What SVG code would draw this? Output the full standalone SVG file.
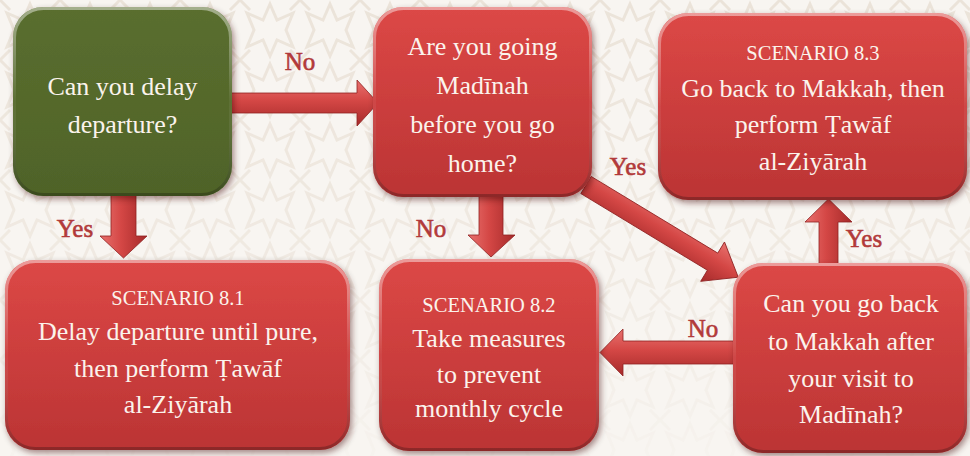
<svg xmlns="http://www.w3.org/2000/svg" width="970" height="456" viewBox="0 0 970 456">
<defs>
<style>
.t{font-family:"Liberation Serif","DejaVu Serif",serif;font-size:26px;fill:#fbf3ec;text-anchor:middle}
.s{font-size:20.5px}
.lbl{font-family:"Liberation Serif","DejaVu Serif",serif;font-size:25px;fill:#b23a3a;text-anchor:middle;stroke:#b23a3a;stroke-width:0.6}
.arr{stroke:#8f2222;stroke-width:0.8;stroke-linejoin:miter}
.bevel{fill:none;stroke:url(#bev);stroke-width:3}
</style>
<linearGradient id="gRed" x1="0" y1="0" x2="0" y2="1">
<stop offset="0" stop-color="#dc4846"/>
<stop offset="1" stop-color="#bb3434"/>
</linearGradient>
<linearGradient id="gGreen" x1="0" y1="0" x2="0" y2="1">
<stop offset="0" stop-color="#5a6e2f"/>
<stop offset="1" stop-color="#4f6328"/>
</linearGradient>
<linearGradient id="bev" x1="0" y1="0" x2="0" y2="1">
<stop offset="0" stop-color="#ffffff" stop-opacity="0.45"/>
<stop offset="0.5" stop-color="#ffffff" stop-opacity="0.05"/>
<stop offset="1" stop-color="#000000" stop-opacity="0.25"/>
</linearGradient>
<linearGradient id="ah" x1="0" y1="0" x2="0" y2="1">
<stop offset="0" stop-color="#e8716e"/>
<stop offset="0.45" stop-color="#d44745"/>
<stop offset="1" stop-color="#a52a2a"/>
</linearGradient>
<linearGradient id="av" x1="0" y1="0" x2="1" y2="0">
<stop offset="0" stop-color="#e8716e"/>
<stop offset="0.45" stop-color="#d44745"/>
<stop offset="1" stop-color="#a52a2a"/>
</linearGradient>
<filter id="sh" x="-10%" y="-10%" width="125%" height="125%">
<feDropShadow dx="2" dy="3" stdDeviation="3" flood-color="#3a1010" flood-opacity="0.45"/>
</filter>
<pattern id="pat" width="60" height="60" patternUnits="userSpaceOnUse">
<polygon points="30,4 37,20 53,13 46,30 53,47 37,40 30,56 23,40 7,47 14,30 7,13 23,20" fill="none" stroke="#ebe3d9" stroke-width="3"/>
<path d="M0,0 L10,10 M60,0 L50,10 M0,60 L10,50 M60,60 L50,50" stroke="#ebe3d9" stroke-width="3"/>
</pattern>
<linearGradient id="fade" x1="0" y1="0" x2="0" y2="1">
<stop offset="0" stop-color="#fff" stop-opacity="1"/>
<stop offset="0.6" stop-color="#fff" stop-opacity="0.6"/>
<stop offset="1" stop-color="#fff" stop-opacity="0.1"/>
</linearGradient>
<mask id="m"><rect width="970" height="456" fill="url(#fade)"/></mask>
</defs>
<rect width="970" height="456" fill="#f8f5f1"/>
<rect width="970" height="456" fill="url(#pat)" mask="url(#m)"/>

<g id="connectors">
<polygon class="arr" fill="url(#ah)" points="228,93 357,93 357,80 378,103 357,126 357,113 228,113"/>
<polygon class="arr" fill="url(#av)" points="111,192 136,192 136,236 147,236 123.5,258 100,236 111,236"/>
<polygon class="arr" fill="url(#av)" points="479,192 503,192 503,235 515,235 491,257 468,235 479,235"/>
<polygon class="arr" fill="url(#ah)" transform="translate(586,185) rotate(31.2)" points="0,-10 148,-10 148,-23 178,0 148,23 148,10 0,10"/>
<polygon class="arr" fill="url(#av)" points="819,266 838,266 838,222 852,222 828.5,199 805,222 819,222"/>
<polygon class="arr" fill="url(#ah)" points="736,341 623,341 623,329 600,352.5 623,376 623,364 736,364"/>
<text class="lbl" x="300" y="70">No</text>
<text class="lbl" x="75" y="237">Yes</text>
<text class="lbl" x="431" y="237">No</text>
<text class="lbl" x="628" y="175">Yes</text>
<text class="lbl" x="864" y="247">Yes</text>
<text class="lbl" x="703" y="337">No</text>
</g>

<g id="n1">
<rect x="13" y="7" width="219" height="189" rx="30" fill="url(#gGreen)" filter="url(#sh)"/>
<rect x="14.5" y="8.5" width="216" height="186" rx="29" class="bevel"/>
<text class="t" x="122.5" y="95">Can you delay</text>
<text class="t" x="122.5" y="133">departure?</text>
</g>

<g id="n2">
<rect x="373" y="7" width="219" height="190" rx="30" fill="url(#gRed)" filter="url(#sh)"/>
<rect x="374.5" y="8.5" width="216" height="187" rx="29" class="bevel"/>
<text class="t" x="482.5" y="55">Are you going</text>
<text class="t" x="482.5" y="94">Madīnah</text>
<text class="t" x="482.5" y="133">before you go</text>
<text class="t" x="482.5" y="172">home?</text>
</g>

<g id="n3">
<rect x="658" y="13" width="309" height="187" rx="30" fill="url(#gRed)" filter="url(#sh)"/>
<rect x="659.5" y="14.5" width="306" height="184" rx="29" class="bevel"/>
<text class="t s" x="813" y="60">SCENARIO 8.3</text>
<text class="t" x="813" y="97">Go back to Makkah, then</text>
<text class="t" x="813" y="133">perform Ṭawāf</text>
<text class="t" x="813" y="170">al-Ziyārah</text>
</g>

<g id="n4">
<rect x="5" y="260" width="345" height="190" rx="30" fill="url(#gRed)" filter="url(#sh)"/>
<rect x="6.5" y="261.5" width="342" height="187" rx="29" class="bevel"/>
<text class="t s" x="178" y="305">SCENARIO 8.1</text>
<text class="t" x="178" y="340">Delay departure until pure,</text>
<text class="t" x="178" y="377">then perform Ṭawāf</text>
<text class="t" x="178" y="413">al-Ziyārah</text>
</g>

<g id="n5">
<rect x="379" y="259" width="220" height="192" rx="30" fill="url(#gRed)" filter="url(#sh)"/>
<rect x="380.5" y="260.5" width="217" height="189" rx="29" class="bevel"/>
<text class="t s" x="489" y="312">SCENARIO 8.2</text>
<text class="t" x="489" y="347">Take measures</text>
<text class="t" x="489" y="383">to prevent</text>
<text class="t" x="489" y="417">monthly cycle</text>
</g>

<g id="n6">
<rect x="733" y="263" width="234" height="190" rx="30" fill="url(#gRed)" filter="url(#sh)"/>
<rect x="734.5" y="264.5" width="231" height="187" rx="29" class="bevel"/>
<text class="t" x="851" y="312">Can you go back</text>
<text class="t" x="851" y="350">to Makkah after</text>
<text class="t" x="851" y="387">your visit to</text>
<text class="t" x="851" y="423">Madīnah?</text>
</g>
</svg>
